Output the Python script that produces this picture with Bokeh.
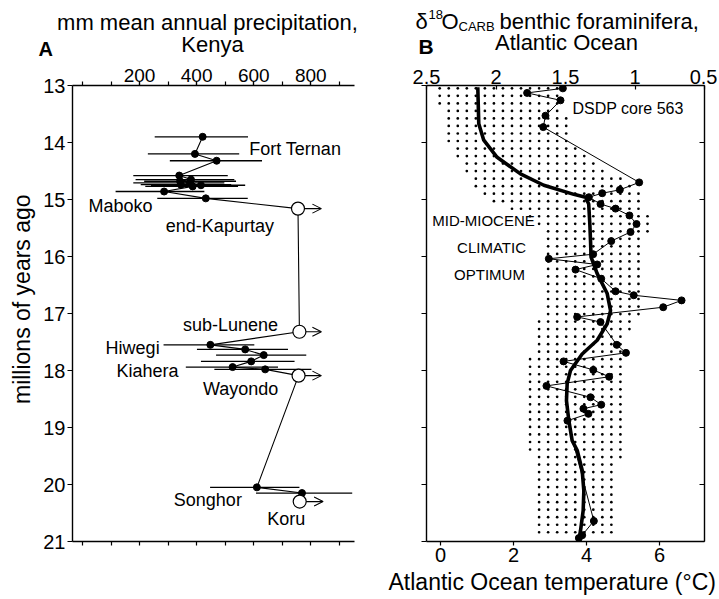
from math import pi
import numpy as np
from bokeh.plotting import figure
from bokeh.models import (Range1d, LinearAxis, Label, Arrow, OpenHead,
                          ColumnDataSource, FixedTicker)
from bokeh.layouts import row, column
from bokeh.embed import file_html
from bokeh.resources import INLINE

FONT = "Liberation Sans"

# ---------------- Panel A: mean annual precipitation, Kenya ----------------
kenya_age = [13.90, 14.20, 14.32, 14.58, 14.65, 14.68, 14.71, 14.74, 14.75, 14.77,
             14.86, 14.98, 17.55, 17.63, 17.73, 17.84, 17.94, 17.98, 20.05, 20.15]
kenya_mm = [421, 394, 470, 339, 380, 342, 377, 345, 415, 386,
            286, 432, 448, 570, 635, 591, 526, 640, 611, 769]
kenya_lo = [253, 229, 306, 178, 186, 216, 178, 204, 240, 220,
            116, 262, 284, 401, 468, 415, 362, 462, 447, 608]
kenya_hi = [580, 549, 629, 509, 532, 538, 497, 521, 570, 545,
            427, 579, 602, 720, 784, 743, 685, 802, 760, 945]
# minimum estimates (open circles with arrows)
open_age = [15.16, 17.32, 18.09, 20.30]
open_mm = [755, 760, 757, 761]
open_arrow_to = [837, 837, 837, 843]

site_names = ["Fort Ternan", "Maboko", "end-Kapurtay", "sub-Lunene", "Hiwegi",
              "Kiahera", "Wayondo", "Songhor", "Koru"]

precip_major = [200, 400, 600, 800]
precip_major_labels = ["200", "400", "600", "800"]
precip_minor = [0, 100, 200, 300, 400, 500, 600, 700, 800, 900]
age_ticks = [13, 14, 15, 16, 17, 18, 19, 20, 21]
age_tick_labels = ["13", "14", "15", "16", "17", "18", "19", "20", "21"]

# ---------------- Panel B: benthic foraminifera d18O, Atlantic ----------------
d18o_age = [13.05, 13.13, 13.26, 13.53, 13.73, 14.70, 14.83, 14.89, 14.96, 15.08,
            15.16, 15.28, 15.43, 15.57, 15.73, 15.96, 16.04, 16.14, 16.23, 16.39,
            16.61, 16.68, 16.77, 16.89, 17.06, 17.15, 17.55, 17.69, 17.84, 17.99,
            18.11, 18.27, 18.47, 18.60, 18.67, 18.76, 18.88, 20.64, 20.89, 20.94]
d18o_val = [1.519, 1.776, 1.536, 1.644, 1.660, 0.970, 1.109, 1.236, 1.332, 1.248,
            1.140, 1.040, 0.989, 1.032, 1.171, 1.301, 1.620, 1.272, 1.428, 1.243,
            1.140, 1.009, 0.665, 0.797, 1.416, 1.248, 1.131, 1.065, 1.514, 1.300,
            1.186, 1.637, 1.320, 1.243, 1.371, 1.335, 1.486, 1.296, 1.380, 1.404]

curve_age = [13.03, 13.67, 13.96, 14.26, 14.55, 14.75, 14.91, 14.96, 15.08, 15.43,
             15.72, 16.01, 16.30, 16.65, 16.95, 17.18, 17.47, 17.71, 18.00, 18.23,
             18.53, 18.88, 19.23, 19.40, 19.75, 20.11, 20.46, 20.81, 20.98]
curve_val = [2.131, 2.124, 2.088, 1.992, 1.824, 1.656, 1.440, 1.356, 1.333, 1.325,
             1.320, 1.316, 1.272, 1.200, 1.176, 1.200, 1.272, 1.380, 1.464, 1.488,
             1.493, 1.476, 1.452, 1.416, 1.380, 1.368, 1.373, 1.392, 1.404]

band_age = [13.05, 13.5, 14.0, 14.25, 14.5, 14.8, 15.0, 15.25, 15.5, 16.0,
            16.5, 17.0, 17.5, 18.0, 18.5, 19.0, 19.5, 20.0, 20.5, 20.9]
band_left = [2.421, 2.399, 2.363, 2.291, 2.219, 2.155, 2.076, 1.788, 1.694, 1.644,
             1.644, 1.680, 1.730, 1.773, 1.802, 1.766, 1.752, 1.752, 1.745, 1.737]
band_right = [1.536, 1.500, 1.464, 1.356, 1.176, 0.960, 0.924, 0.910, 0.903, 0.946,
              0.960, 0.960, 1.068, 1.090, 1.090, 1.090, 1.104, 1.119, 1.140, 1.155]

d18o_ticks = [2.5, 2.0, 1.5, 1.0, 0.5]
d18o_tick_labels = ["2.5", "2", "1.5", "1", "0.5"]
temp_ticks = [0, 2, 4, 6]
temp_tick_labels = ["0", "2", "4", "6"]


def style_axis(ax, size, tick_in, tick_out, standoff):
    ax.axis_line_color = "black"
    ax.axis_line_width = 1.4
    for kind in ("major", "minor"):
        setattr(ax, kind + "_tick_line_color", "black")
        setattr(ax, kind + "_tick_line_width", 1.2)
        setattr(ax, kind + "_tick_in", tick_in)
        setattr(ax, kind + "_tick_out", tick_out)
    ax.major_label_text_font = FONT
    ax.major_label_text_font_size = size
    ax.major_label_text_color = "black"
    ax.major_label_standoff = standoff


def add_text(p, x, y, text, size, align="left", baseline="middle", bold=False,
             angle=0.0):
    p.add_layout(Label(x=x, y=y, text=text, text_font=FONT, text_font_size=size,
                       text_align=align, text_baseline=baseline, angle=angle,
                       text_font_style="bold" if bold else "normal",
                       text_color="black"))


def text_fig(w, h, top):
    """Blank strip whose data coordinates are page pixels (y grows downward)."""
    f = figure(width=w, height=h, x_range=Range1d(0, w), y_range=Range1d(top + h, top),
               x_axis_type=None, y_axis_type=None, output_backend="svg",
               toolbar_location=None, min_border=0)
    f.grid.visible = False
    f.outline_line_color = None
    return f


W_TOTAL = 717
HEADER_H = 59
BORDER_TOP = 26
BORDER_BOTTOM = 28
FRAME_H = 456
MAIN_H = BORDER_TOP + FRAME_H + BORDER_BOTTOM
FOOTER_H = 26
STRIP_W = 36

# ======================= Panel A =======================
p1 = figure(frame_width=282, frame_height=FRAME_H,
            x_range=Range1d(-35, 953), y_range=Range1d(21, 13),
            x_axis_location="above", output_backend="svg", toolbar_location=None,
            min_border_left=36, min_border_right=20, min_border_top=BORDER_TOP,
            min_border_bottom=BORDER_BOTTOM)
p1.grid.visible = False
p1.outline_line_color = None

top_a = p1.xaxis[0]
top_a.ticker = FixedTicker(ticks=precip_major, minor_ticks=precip_minor)
top_a.major_label_overrides = {t: l for t, l in zip(precip_major, precip_major_labels)}
style_axis(top_a, "19px", 0, 4, 0)

bot_a = LinearAxis(ticker=FixedTicker(ticks=[], minor_ticks=precip_minor))
style_axis(bot_a, "19px", 0, 4, 1)
p1.add_layout(bot_a, "below")

left_a = p1.yaxis[0]
left_a.ticker = FixedTicker(ticks=age_ticks)
left_a.major_label_overrides = {t: l for t, l in zip(age_ticks, age_tick_labels)}
style_axis(left_a, "20px", 0, 5, 2)

p1.segment(x0=kenya_lo, y0=kenya_age, x1=kenya_hi, y1=kenya_age,
           line_color="black", line_width=1.3)
pairs = sorted(zip(kenya_age + open_age[:3], kenya_mm + open_mm[:3]))
p1.line([m for _, m in pairs], [a for a, _ in pairs], line_color="black", line_width=1.1)

arrow_src = ColumnDataSource(dict(x0=open_mm, y0=open_age, x1=open_arrow_to, y1=open_age))
p1.add_layout(Arrow(source=arrow_src, x_start="x0", y_start="y0", x_end="x1", y_end="y1",
                    line_color="black", line_width=1.1, level="underlay",
                    end=OpenHead(size=9, line_color="black", line_width=1.1)))

p1.scatter(kenya_mm, kenya_age, size=7, color="black")
p1.scatter(open_mm, open_age, size=13, fill_color="white", line_color="black",
           line_width=1.2)

site_x = [584, 21, 292, 352, 81, 119, 422, 320, 647]
site_y = [14.11, 15.11, 15.46, 17.21, 17.61, 18.00, 18.32, 20.28, 20.61]
for name, sx, sy in zip(site_names, site_x, site_y):
    add_text(p1, sx, sy, name, "18px")

# ======================= Panel B =======================
p2 = figure(frame_width=278, frame_height=FRAME_H,
            x_range=Range1d(2.5, 0.5), y_range=Range1d(21, 13),
            x_axis_location="above", output_backend="svg", toolbar_location=None,
            min_border_left=52, min_border_right=13, min_border_top=BORDER_TOP,
            min_border_bottom=BORDER_BOTTOM)
p2.grid.visible = False
p2.outline_line_color = None
p2.extra_x_ranges = {"temp": Range1d(-0.384, 7.233)}

top_b = p2.xaxis[0]
top_b.ticker = FixedTicker(ticks=d18o_ticks)
top_b.major_label_overrides = {t: l for t, l in zip(d18o_ticks, d18o_tick_labels)}
style_axis(top_b, "20px", 4, 0, 2)

bot_b = LinearAxis(x_range_name="temp", ticker=FixedTicker(ticks=temp_ticks))
bot_b.major_label_overrides = {t: l for t, l in zip(temp_ticks, temp_tick_labels)}
style_axis(bot_b, "20px", 0, 4, 2)
p2.add_layout(bot_b, "below")

left_b = p2.yaxis[0]
left_b.ticker = FixedTicker(ticks=[], minor_ticks=age_ticks)
style_axis(left_b, "20px", 0, 5, 2)

right_b = LinearAxis(ticker=FixedTicker(ticks=[], minor_ticks=age_ticks))
style_axis(right_b, "20px", 5, 0, 2)
p2.add_layout(right_b, "right")

# stippled uncertainty band: a regular grid of fine dots filling the band outline
STIP_DX = 0.065   # ~9 px in d18O units
STIP_DY = 0.132   # ~7.5 px in Myr
stip_x, stip_y = [], []
for a in np.arange(band_age[0], band_age[-1] + 1e-9, STIP_DY):
    hi = np.interp(a, band_age, band_left)
    lo = np.interp(a, band_age, band_right)
    cols = np.arange(2.47, 0.5, -STIP_DX)
    sel = cols[(cols <= hi) & (cols >= lo)]
    stip_x.extend(sel.tolist())
    stip_y.extend([float(a)] * len(sel))
p2.scatter(stip_x, stip_y, size=2.7, color="black", line_width=0)

p2.line(d18o_val, d18o_age, line_color="black", line_width=1.0)
p2.scatter(d18o_val, d18o_age, size=7, color="black")
p2.line(curve_val, curve_age, line_color="black", line_width=3.6)

add_text(p2, 1.450, 13.40, "DSDP core 563", "16px")
add_text(p2, 2.090, 15.37, "MID-MIOCENE", "15px", align="center")
add_text(p2, 2.032, 15.84, "CLIMATIC", "15px", align="center")
add_text(p2, 2.047, 16.32, "OPTIMUM", "15px", align="center")

# ======================= header / side strip / footer texts =======================
header = text_fig(W_TOTAL, HEADER_H, 0)
add_text(header, 207, 22, "mm mean annual precipitation,", "22px", align="center")
add_text(header, 212, 44, "Kenya", "22px", align="center")
add_text(header, 38, HEADER_H, "A", "20px", baseline="bottom", bold=True)
add_text(header, 418, 46, "B", "21px", bold=True)
add_text(header, 415, 21, "\u03b4", "22px")
add_text(header, 428, 14, "18", "13px")
add_text(header, 441, 21, "O", "22px")
add_text(header, 458, 26, "CARB", "13px")
add_text(header, 499, 21, "benthic foraminifera,", "22px")
add_text(header, 566, 42, "Atlantic Ocean", "22px", align="center")

strip = text_fig(STRIP_W, MAIN_H, HEADER_H)
add_text(strip, 21, 298, "millions of years ago", "23px", align="center", angle=pi / 2)

footer = text_fig(W_TOTAL, FOOTER_H, HEADER_H + MAIN_H)
add_text(footer, 388, 581, "Atlantic Ocean temperature (\u00b0C)", "23px")

layout = column(header, row(strip, p1, p2), footer)
open("out.html", "w").write(file_html(layout, INLINE))
